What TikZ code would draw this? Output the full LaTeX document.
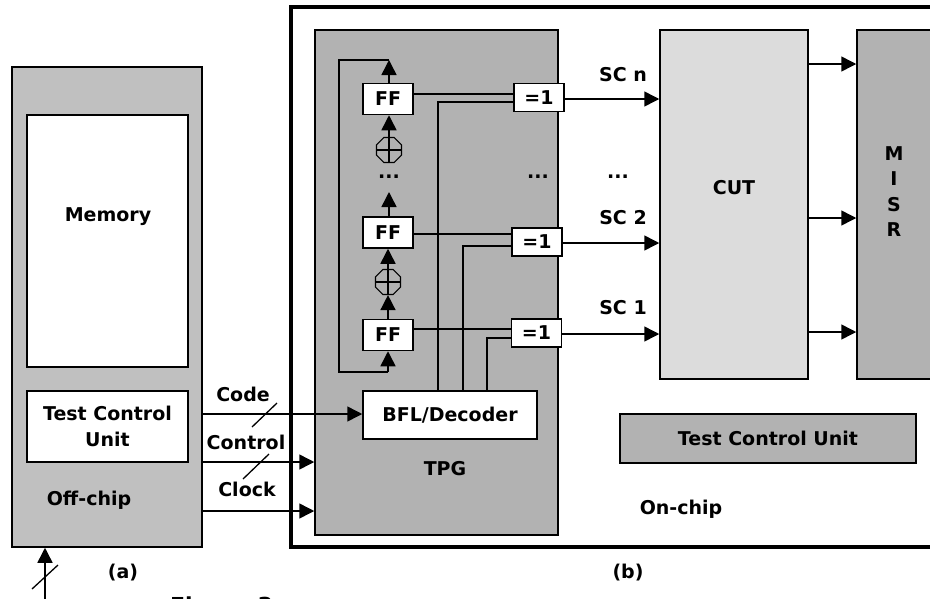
\documentclass[tikz,border=0pt]{standalone}
\usepackage{fontspec}
\setmainfont{DejaVu Sans}
\usetikzlibrary{
    arrows.meta,
    shapes.geometric
}
\definecolor{offchip}{RGB}{192,192,192}
\definecolor{darkblock}{RGB}{178,178,178}
\definecolor{cutblock}{RGB}{220,220,220}
\tikzset{
    every node/.style={font=\fontsize{19}{25.5}\selectfont\bfseries, inner sep=0pt},
    blockbox/.style={draw, line width=1.5pt, align=center},
    ffbox/.style={blockbox, fill=white, minimum width=50pt, minimum height=31pt},
    xorbox/.style={blockbox, fill=white, minimum width=50pt, minimum height=28pt},
    addbox/.style={draw, line width=1.2pt, regular polygon, regular polygon sides=8, minimum size=27pt},
    wire/.style={line width=1.5pt},
    sig/.style={wire, -{Triangle[length=15pt,width=15pt]}},
    slash/.style={line width=1.3pt}
}
\begin{document}
\begin{tikzpicture}[x=1pt, y=-1pt]
    \useasboundingbox (0,0) rectangle (930,598);

    % On-chip frame
    \draw[line width=3.5pt] (291,7) rectangle (960,547);

    % Off-chip part
    \node[blockbox, fill=offchip, minimum width=190pt, minimum height=480pt] (offchip) at (107,307) {};
    \node[blockbox, fill=white, minimum width=161pt, minimum height=252pt] (memory) at (107.5,241) {};
    \node (memlabel) at (108,217) {Memory};
    \node[blockbox, fill=white, minimum width=161pt, minimum height=71pt] (tcuoff) at (107.5,426.5) {Test Control\\Unit};
    \node (offlabel) at (89,500) {Off-chip};

    % On-chip blocks
    \node[blockbox, fill=darkblock, minimum width=243pt, minimum height=505pt] (tpg) at (436.5,282.5) {};
    \node[blockbox, fill=cutblock, minimum width=148pt, minimum height=349pt] (cut) at (734,204.5) {};
    \node (cutlabel) at (734,188) {CUT};
    \node[blockbox, fill=darkblock, minimum width=76pt, minimum height=349pt] (misr) at (895,204.5) {};
    \node[align=center] (misrlabel) at (894,191.5) {M\\I\\S\\R};
    \node[blockbox, fill=darkblock, minimum width=296pt, minimum height=49pt] (tcuon) at (768,438.5) {Test Control Unit};
    \node (tpglabel) at (445,469) {TPG};
    \node (onlabel) at (681,509) {On-chip};

    % Flip-flops and adders
    \node[ffbox] (fftop) at (388,99) {FF};
    \node[ffbox] (ffmid) at (388,232.5) {FF};
    \node[ffbox] (ffbot) at (388,335) {FF};
    \node[xorbox] (xortop) at (539,97.5) {=1};
    \node[xorbox] (xormid) at (537,242) {=1};
    \node[xorbox] (xorbot) at (536.5,333) {=1};
    \node[addbox] (addtop) at (389,150) {};
    \node[addbox] (addbot) at (388,282) {};
    \draw[line width=1.2pt] (addtop.north) -- (addtop.south) (addtop.west) -- (addtop.east);
    \draw[line width=1.2pt] (addbot.north) -- (addbot.south) (addbot.west) -- (addbot.east);
    \node[blockbox, fill=white, minimum width=174pt, minimum height=48pt] (bfl) at (450,415) {BFL/Decoder};

    % Dots
    \node (dotsa) at (389,177) {...};
    \node (dotsb) at (538,177) {...};
    \node (dotsc) at (618,177) {...};

    % Shift chain
    \coordinate (fbtop) at (389,60);
    \coordinate (fbbot) at (388,372);
    \coordinate (chainup) at (389,192);
    \draw[sig] (fftop.north -| fbtop) -- (fbtop);
    \draw[sig] (addtop.north) -- (fftop.south -| addtop.north);
    \draw[sig] (ffmid.north -| chainup) -- (chainup);
    \draw[sig] (addbot.north) -- (ffmid.south);
    \draw[sig] (ffbot.north) -- (addbot.south);
    \draw[sig] (fbbot) -- (ffbot.south);
    \draw[wire] (fbtop) -- (339,60) -- (339,372) -- (fbbot);

    % Rows towards the scan chains
    \foreach \row/\ya/\yb/\xdec/\yout in {top/94/102/438/99, mid/234/246/463/243, bot/329/338/487/334} {
        \draw[wire] (ff\row.east |- 0,\ya) -- (xor\row.west |- 0,\ya);
        \draw[wire] (bfl.north -| \xdec,0) |- (xor\row.west |- 0,\yb);
        \draw[sig] (xor\row.east |- 0,\yout) -- (cut.west |- 0,\yout);
    }

    % CUT outputs
    \foreach \y in {64,218,332} {
        \draw[sig] (cut.east |- 0,\y) -- (misr.west |- 0,\y);
    }
    \node (scn) at (623,75) {SC n};
    \node (sctwo) at (623,218) {SC 2};
    \node (scone) at (623,308) {SC 1};

    % Off-chip to on-chip signals
    \draw[sig] (offchip.east |- 0,414) -- (bfl.west |- 0,414);
    \draw[sig] (offchip.east |- 0,462) -- (tpg.west |- 0,462);
    \draw[sig] (offchip.east |- 0,511) -- (tpg.west |- 0,511);
    \draw[slash] (252,427) -- (277,403);
    \draw[slash] (243,479) -- (269,454);
    \node (codelabel) at (243,394) {Code};
    \node (controllabel) at (246,442) {Control};
    \node (clocklabel) at (247,489) {Clock};

    % Input of the off-chip part
    \coordinate (extin) at (45,600);
    \draw[sig] (extin) -- (offchip.south -| extin);
    \draw[slash] (32,589) -- (58,565);

    % Sub-figure labels
    \node (alabel) at (123,573) {(a)};
    \node (blabel) at (628,573) {(b)};
    \node[anchor=base west, font=\fontsize{22}{25}\selectfont\bfseries] (caption) at (170,613) {Figure 3:};
\end{tikzpicture}
\end{document}
